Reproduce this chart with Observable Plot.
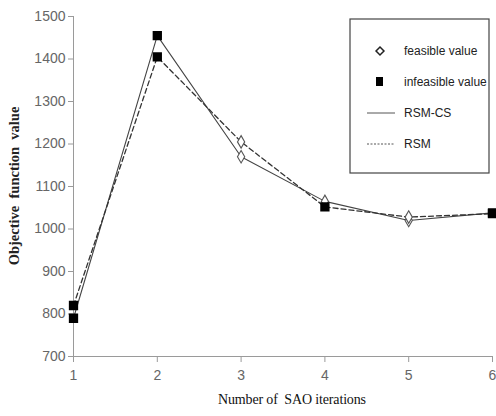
<!DOCTYPE html>
<html>
<head>
<meta charset="utf-8">
<script src="https://cdn.jsdelivr.net/npm/d3@7"></script>
<script src="https://cdn.jsdelivr.net/npm/@observablehq/plot@0.6"></script>
<style>
  html, body { margin: 0; padding: 0; background: #fff; }
  #chart { position: relative; width: 496px; height: 416px; }
</style>
</head>
<body>
<div id="chart"></div>
<script>
const iterations = [1, 2, 3, 4, 5, 6];
const rsmcsValues = [790, 1455, 1170, 1065, 1020, 1038];
const rsmValues   = [820, 1405, 1205, 1052, 1028, 1036];
const rsmcsFeasible = [false, false, true, true, true, false];
const rsmFeasible   = [false, false, true, false, true, false];
const yTicks = [700, 800, 900, 1000, 1100, 1200, 1300, 1400, 1500];
const xTicks = [1, 2, 3, 4, 5, 6];
const legendLabels = ["feasible value", "infeasible value", "RSM-CS", "RSM"];
const legendKinds = ["diamond", "square", "solid", "dashed"];

const rows = [];
iterations.forEach((it, i) => {
  rows.push({series: "RSM-CS", x: it, y: rsmcsValues[i], feasible: rsmcsFeasible[i]});
  rows.push({series: "RSM", x: it, y: rsmValues[i], feasible: rsmFeasible[i]});
});
const rsmcs = rows.filter(d => d.series === "RSM-CS");
const rsm = rows.filter(d => d.series === "RSM");

const axisColor = "#9a9a9a";
const fmt = d => String(d);
const plot = Plot.plot({
  width: 496,
  height: 416,
  marginLeft: 73,
  marginRight: 4,
  marginTop: 16,
  marginBottom: 60,
  style: {fontFamily: "'Liberation Sans Narrow', 'Liberation Sans', Arial, sans-serif", fontSize: "14px", color: "#666", background: "#fff"},
  x: {domain: [1, 6], label: null},
  y: {domain: [700, 1500], label: null},
  marks: [
    Plot.axisY({ticks: yTicks, tickFormat: fmt, tickSize: 5, tickPadding: 3, stroke: axisColor, fill: "#666", fontSize: 14, label: null}),
    Plot.axisX({ticks: xTicks, tickFormat: fmt, tickSize: 6, tickPadding: 8, stroke: axisColor, fill: "#666", fontSize: 14, label: null}),
    Plot.ruleX([1], {stroke: axisColor}),
    Plot.ruleY([700], {stroke: axisColor}),
    Plot.line(rsmcs, {x: "x", y: "y", stroke: "#444", strokeWidth: 1.1}),
    Plot.line(rsm, {x: "x", y: "y", stroke: "#333", strokeWidth: 1.3, strokeDasharray: "5,3"}),
    Plot.dot(rows.filter(d => d.feasible), {x: "x", y: "y", symbol: "diamond", r: 3.8, stroke: "#555", fill: "white", strokeWidth: 1.1}),
    Plot.dot(rows.filter(d => !d.feasible), {x: "x", y: "y", symbol: "square", r: 4.4, fill: "black", stroke: "black"})
  ]
});
document.getElementById("chart").appendChild(plot);

// axis titles and legend
const svg = d3.select(plot);
svg.append("text")
  .attr("x", 292).attr("y", 404)
  .attr("text-anchor", "middle")
  .attr("font-family", "'Liberation Serif', 'Times New Roman', serif")
  .attr("font-size", 14)
  .attr("fill", "#111")
  .attr("textLength", 148)
  .text("Number of  SAO iterations");
svg.append("text")
  .attr("transform", "translate(19,186) rotate(-90)")
  .attr("text-anchor", "middle")
  .attr("font-family", "'Liberation Serif', 'Times New Roman', serif")
  .attr("font-size", 14.5)
  .attr("font-weight", "bold")
  .attr("fill", "#222")
  .text("Objective  function  value");

const lg = svg.append("g").attr("transform", "translate(350,19)");
lg.append("rect").attr("width", 139).attr("height", 154)
  .attr("fill", "white").attr("stroke", "#444").attr("stroke-width", 1.2);
legendLabels.forEach((label, i) => {
  const kind = legendKinds[i];
  const cy = 32 + i * 31;
  if (kind === "diamond") {
    lg.append("path").attr("d", d3.symbol(d3.symbolDiamond2, 40)())
      .attr("transform", `translate(30,${cy})`)
      .attr("fill", "white").attr("stroke", "#222").attr("stroke-width", 1.5);
  } else if (kind === "square") {
    lg.append("rect").attr("x", 26).attr("y", cy - 5).attr("width", 7).attr("height", 9).attr("fill", "black");
  } else {
    lg.append("line").attr("x1", 17).attr("x2", 45).attr("y1", cy).attr("y2", cy)
      .attr("stroke", "#555").attr("stroke-width", 1)
      .attr("stroke-dasharray", kind === "dashed" ? "2,1.5" : null);
  }
  lg.append("text").attr("x", 54).attr("y", cy + 4)
    .attr("text-anchor", "start")
    .attr("font-family", "'Liberation Sans Narrow', 'Liberation Sans', Arial, sans-serif")
    .attr("font-size", 12).attr("fill", "#222")
    .text(label);
});
</script>
</body>
</html>
